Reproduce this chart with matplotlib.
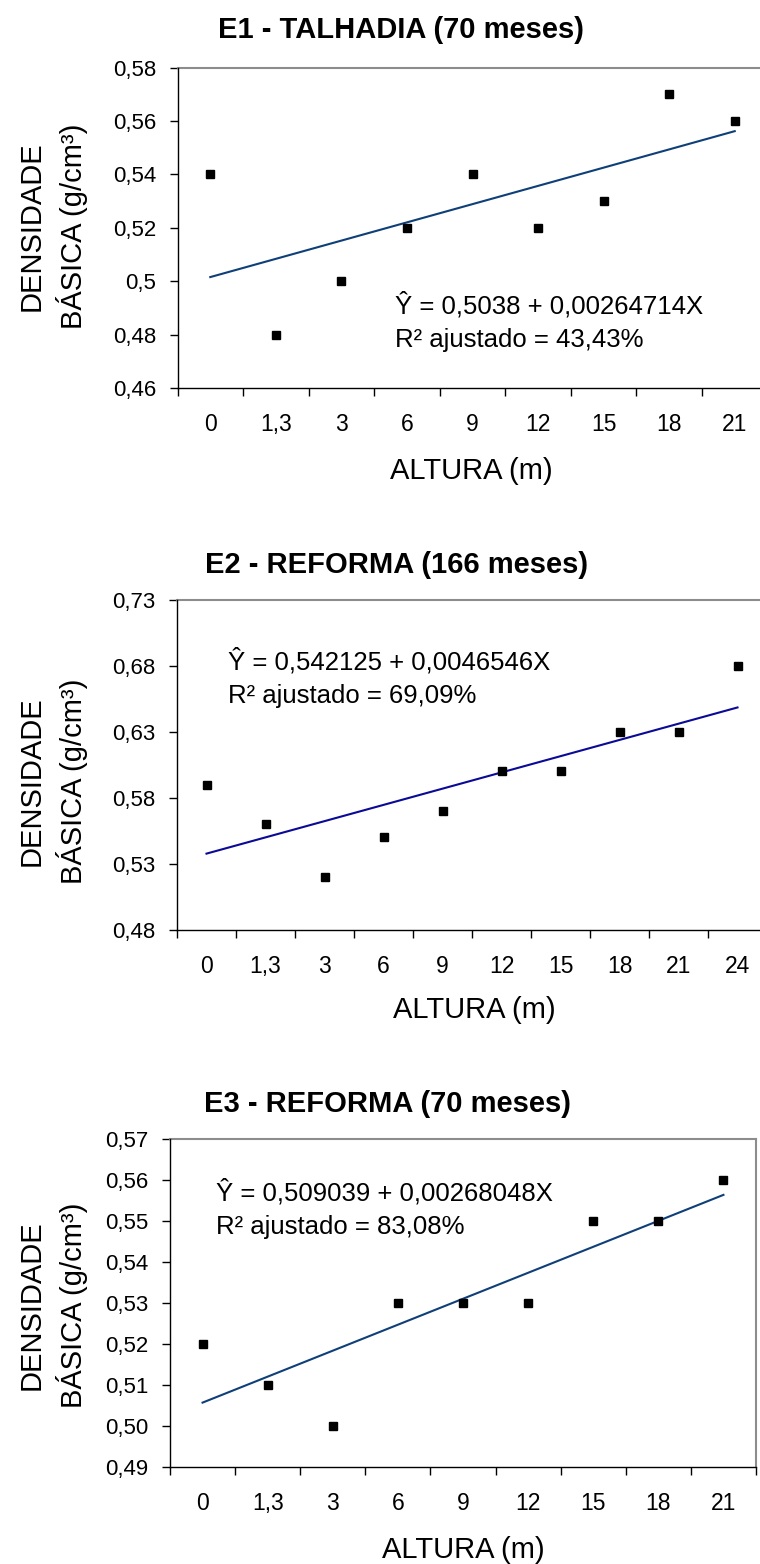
import matplotlib.pyplot as plt
import numpy as np

plt.rcParams['font.family'] = ['Liberation Sans', 'DejaVu Sans']

# dados
cat_e1 = ['0', '1,3', '3', '6', '9', '12', '15', '18', '21']
dens_e1 = [0.54, 0.48, 0.50, 0.52, 0.54, 0.52, 0.53, 0.57, 0.56]
yticks_e1 = [0.46, 0.48, 0.50, 0.52, 0.54, 0.56, 0.58]
ylabels_e1 = ['0,46', '0,48', '0,5', '0,52', '0,54', '0,56', '0,58']

cat_e2 = ['0', '1,3', '3', '6', '9', '12', '15', '18', '21', '24']
dens_e2 = [0.59, 0.56, 0.52, 0.55, 0.57, 0.60, 0.60, 0.63, 0.63, 0.68]
yticks_e2 = [0.48, 0.53, 0.58, 0.63, 0.68, 0.73]
ylabels_e2 = ['0,48', '0,53', '0,58', '0,63', '0,68', '0,73']

cat_e3 = ['0', '1,3', '3', '6', '9', '12', '15', '18', '21']
dens_e3 = [0.52, 0.51, 0.50, 0.53, 0.53, 0.53, 0.55, 0.55, 0.56]
yticks_e3 = [0.49, 0.50, 0.51, 0.52, 0.53, 0.54, 0.55, 0.56, 0.57]
ylabels_e3 = ['0,49', '0,50', '0,51', '0,52', '0,53', '0,54', '0,55', '0,56', '0,57']

W, H = 760, 1564
fig = plt.figure(figsize=(W / 100, H / 100), dpi=100)


def px(x, y):
    return x / W, 1 - y / H


def painel(box, cats, vals, yt, ylab, cor, titulo, eq, r2, tit_xy, eq_xy, alt_xy, yl_y):
    l, t, r, b = box
    ax = fig.add_axes([l / W, 1 - b / H, (r - l) / W, (b - t) / H])
    n = len(cats)
    idx = np.arange(n)

    # linha de tendencia (ajuste linear sobre a posicao da categoria)
    coef = np.polyfit(idx, vals, 1)
    ax.plot([idx[0], idx[-1]], np.polyval(coef, [idx[0], idx[-1]]), color=cor, lw=1.5, zorder=2)
    ax.plot(idx, vals, 's', color='black', markersize=5.2, zorder=3)

    ax.set_xlim(-0.5, n - 0.5)
    ax.set_ylim(yt[0], yt[-1])
    ax.set_yticks(yt)
    ax.set_yticklabels(ylab)
    ax.set_xticks(np.arange(n + 1) - 0.5)
    ax.set_xticklabels([])
    ax.set_xticks(idx, minor=True)
    ax.set_xticklabels(cats, minor=True)
    ax.tick_params(axis='both', which='major', direction='out', length=6, width=1, color='black')
    ax.tick_params(axis='y', labelsize=16, pad=9.5)
    ax.tick_params(axis='x', which='minor', length=0, labelsize=16.5, pad=18)

    for s in ['left', 'bottom']:
        ax.spines[s].set_color('black')
        ax.spines[s].set_linewidth(1)
    for s in ['top', 'right']:
        ax.spines[s].set_color('#8c8c8c')
        ax.spines[s].set_linewidth(1.5)
    ax.spines['left'].set_zorder(4)
    ax.spines['bottom'].set_zorder(4)

    fig.text(*px(*tit_xy), titulo, fontsize=21, fontweight='bold', ha='center', va='center')
    fig.text(*px(eq_xy[0], eq_xy[1]), eq, fontsize=18.5, ha='left', va='center')
    fig.text(*px(eq_xy[0], eq_xy[1] + 35), r2, fontsize=18.5, ha='left', va='center')
    fig.text(*px(*alt_xy), 'ALTURA (m)', fontsize=21, ha='center', va='center')
    fig.text(*px(31.5, yl_y), 'DENSIDADE', fontsize=21, rotation=90, ha='center', va='center')
    fig.text(*px(72, yl_y), 'BÁSICA (g/cm³)', fontsize=21, rotation=90, ha='center', va='center')
    return ax


painel((177.5, 67.7, 767.5, 388), cat_e1, dens_e1, yticks_e1, ylabels_e1, '#0f3f78',
       'E1 - TALHADIA (70 meses)', 'Ŷ = 0,5038 + 0,00264714X', 'R² ajustado = 43,43%',
       (401, 30), (395, 305), (471, 471), 226)

painel((177, 599.7, 767, 929.7), cat_e2, dens_e2, yticks_e2, ylabels_e2, '#0a0a96',
       'E2 - REFORMA (166 meses)', 'Ŷ = 0,542125 + 0,0046546X', 'R² ajustado = 69,09%',
       (397, 565), (228, 661), (474, 1010), 781)

painel((170, 1139.3, 756, 1467.3), cat_e3, dens_e3, yticks_e3, ylabels_e3, '#0f3f78',
       'E3 - REFORMA (70 meses)', 'Ŷ = 0,509039 + 0,00268048X', 'R² ajustado = 83,08%',
       (388, 1104), (216, 1192), (463, 1550), 1305)

fig.savefig('out.png', dpi=100)
